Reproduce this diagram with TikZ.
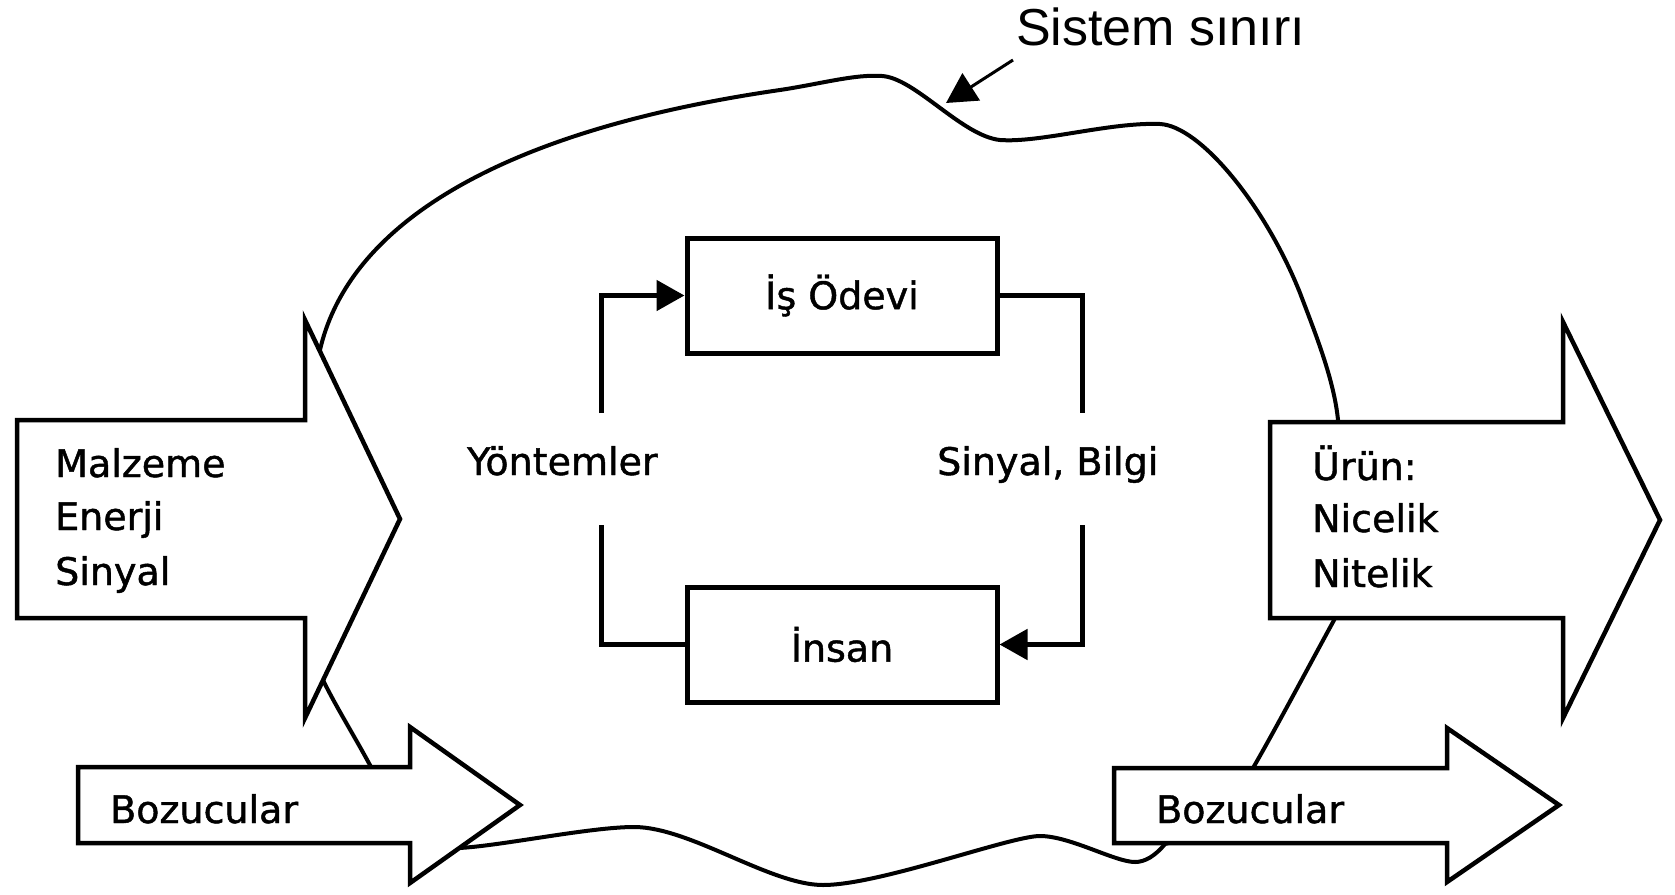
\documentclass[tikz,border=0pt]{standalone}
\usepackage{fontspec}
\setmainfont{DejaVu Sans}
\newfontfamily\txtfont{DejaVu Sans}[FakeBold=1.2]
\newfontfamily\labelfont{Liberation Sans}
\usetikzlibrary{arrows.meta}
\begin{document}
\begin{tikzpicture}[x=1pt,y=-1pt]
\useasboundingbox (0,0) rectangle (1675,894);
\tikzset{
 bnd/.style={line width=4pt, line join=round},
 bigarrow/.style={draw, fill=white, line width=4.5pt, line join=miter},
 box/.style={draw, line width=5pt, minimum width=310pt, minimum height=115pt, inner sep=0pt, font=\txtfont\fontsize{38}{46}\selectfont},
 lbl/.style={font=\txtfont\fontsize{38}{54}\selectfont, inner sep=0pt, anchor=base west},
 conn/.style={line width=5pt},
 tipa/.style={-{Triangle[length=28pt,width=30pt]}},
 pointer/.style={line width=3pt, -{Triangle[length=30pt,width=32pt]}}
}
% system boundary
\draw[bnd] (320,350)
 .. controls (345,240) and (470,135) .. (780,90)
 .. controls (820,84) and (855,74) .. (882,76)
 .. controls (915,78) and (962,136) .. (1000,140)
 .. controls (1040,143) and (1110,122) .. (1160,124)
 .. controls (1200,126) and (1265,205) .. (1300,293)
 .. controls (1316,335) and (1334,380) .. (1338,420)
 .. controls (1342,490) and (1357,578) .. (1333,622)
 .. controls (1310,664) and (1275,730) .. (1253,768)
 .. controls (1230,808) and (1190,838) .. (1165,844)
 .. controls (1155,856) and (1145,862) .. (1135,862)
 .. controls (1115,862) and (1070,836) .. (1040,836)
 .. controls (1010,836) and (880,885) .. (823,885)
 .. controls (770,885) and (690,827) .. (634,827)
 .. controls (590,827) and (500,846) .. (459,848)
 .. controls (430,846) and (390,795) .. (371,767)
 .. controls (355,737) and (335,705) .. (323,680)
 .. controls (310,580) and (307,405) .. cycle;
% big arrows
\draw[bigarrow] (17,420) -- (305,420) -- (305,320) -- (400,519) -- (305,718) -- (305,618) -- (17,618) -- cycle;
\draw[bigarrow] (1270,422) -- (1563,422) -- (1563,322) -- (1660,520) -- (1563,718) -- (1563,618) -- (1270,618) -- cycle;
\draw[bigarrow] (78,767) -- (410,767) -- (410,727) -- (520,805) -- (410,883) -- (410,843) -- (78,843) -- cycle;
\draw[bigarrow] (1114,768) -- (1447,768) -- (1447,728) -- (1559,805) -- (1447,882) -- (1447,843) -- (1114,843) -- cycle;
% texts in arrows
\node[lbl] (malz) at (55,477) {Malzeme};
\node[lbl] (ener) at (55,530) {Enerji};
\node[lbl] (siny) at (55,585) {Sinyal};
\node[lbl] (urun) at (1312,480) {Ürün:};
\node[lbl] (nice) at (1312,532) {Nicelik};
\node[lbl] (nite) at (1312,587) {Nitelik};
\node[lbl] (boz1) at (110,823) {Bozucular};
\node[lbl] (boz2) at (1156,823) {Bozucular};
% boxes
\node[box] (is) at (842,295.5) {İş Ödevi};
\node[box] (insan) at (842,644.5) {İnsan};
% middle labels
\node[lbl] (yon) at (467,475) {Yöntemler};
\node[lbl] (sb) at (937,475) {Sinyal, Bilgi};
\coordinate (yl1) at (601,525);
\coordinate (yl2) at (601,413);
\coordinate (sr1) at (1082,413);
\coordinate (sr2) at (1082,525);
\draw[conn] (insan.west) -| (yl1);
\draw[conn,tipa] (yl2) |- (is.west);
\draw[conn] (is.east) -| (sr1);
\draw[conn,tipa] (sr2) |- (insan.east);
% system boundary label
\node[font=\labelfont\fontsize{52}{56}\selectfont, anchor=base west, inner sep=0pt] (ss) at (1016,45) {Sistem sınırı};
\coordinate (pstart) at (1013,60);
\coordinate (bt) at (946,103);
\draw[pointer] (pstart) -- (bt);
\end{tikzpicture}
\end{document}
